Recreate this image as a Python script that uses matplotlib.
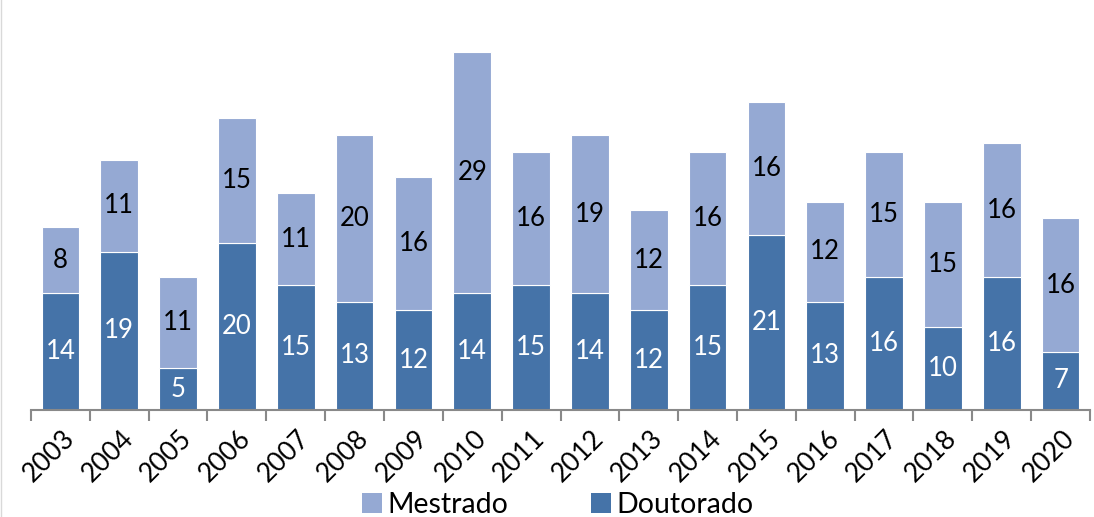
import matplotlib
matplotlib.use("Agg")
import matplotlib.pyplot as plt
import numpy as np
from matplotlib.lines import Line2D
from matplotlib.patches import Patch

years = ["2003", "2004", "2005", "2006", "2007", "2008", "2009", "2010", "2011",
         "2012", "2013", "2014", "2015", "2016", "2017", "2018", "2019", "2020"]
doutorado = [14, 19, 5, 20, 15, 13, 12, 14, 15, 14, 12, 15, 21, 13, 16, 10, 16, 7]
mestrado = [8, 11, 11, 15, 11, 20, 16, 29, 16, 19, 12, 16, 16, 12, 15, 15, 16, 16]

c_mest = "#95A9D3"
c_dout = "#4573A8"
font = ["Lato", "DejaVu Sans"]
plt.rcParams["font.family"] = font

W, H = 1094, 517
fig = plt.figure(figsize=(W / 100, H / 100), dpi=100)
ax_left, ax_right, ax_bottom_px, ax_top_px = 31, 1090, 410, 0
ax = fig.add_axes([ax_left / W, (H - ax_bottom_px) / H, (ax_right - ax_left) / W,
                   (ax_bottom_px - ax_top_px) / H])

x = np.arange(len(years))
bw = 0.64
ax.bar(x, doutorado, bw, color=c_dout, edgecolor="white", linewidth=0.8, label="Doutorado")
ax.bar(x, mestrado, bw, bottom=doutorado, color=c_mest, edgecolor="white", linewidth=0.8,
       label="Mestrado")

for xi, d, m in zip(x, doutorado, mestrado):
    ax.text(xi, d / 2, str(d), ha="center", va="center", color="white", fontsize=18.5)
    ax.text(xi, d + m / 2, str(m), ha="center", va="center", color="black", fontsize=18.5)

ax.set_xlim(-0.5, len(years) - 0.5)
ax.set_ylim(0, ax_bottom_px / 8.33)
for s in ["top", "right", "left"]:
    ax.spines[s].set_visible(False)
ax.spines["bottom"].set_color("#898989")
ax.spines["bottom"].set_linewidth(1.5)
ax.set_yticks([])

ax.set_xticks(x + 0.02)
ax.set_xticklabels(years, rotation=45, ha="right", rotation_mode="anchor", fontsize=19)
ax.tick_params(axis="x", which="major", length=0, pad=11)
ax.set_xticks(np.arange(-0.5, len(years), 1), minor=True)
ax.tick_params(axis="x", which="minor", length=8, width=1.5, color="#898989", direction="out")

handles = [Patch(facecolor=c_mest, edgecolor="none"), Patch(facecolor=c_dout, edgecolor="none")]
fig.legend(handles, ["Mestrado", "Doutorado"], loc="center", bbox_to_anchor=(558 / W, 1 - 505 / H),
           ncol=2, frameon=False, fontsize=20.5, handlelength=0.7, handleheight=0.7,
           handletextpad=0.2, columnspacing=2.9)

fig.add_artist(Line2D([0.5 / W, 0.5 / W], [0, 1], color="#d9d9d9", linewidth=1,
                      transform=fig.transFigure))

fig.savefig("out.png", dpi=100)
